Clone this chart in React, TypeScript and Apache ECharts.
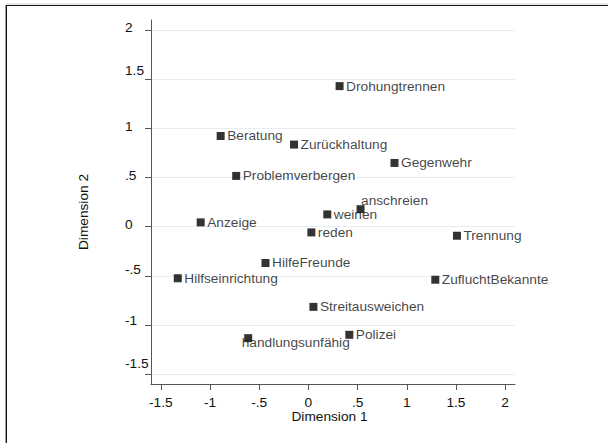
import React, { useEffect, useRef } from "react";
import * as echarts from "echarts";

const names = [
  "Drohungtrennen", "Beratung", "Zurückhaltung", "Gegenwehr", "Problemverbergen",
  "anschreien", "weinen", "Anzeige", "reden", "Trennung", "HilfeFreunde",
  "Hilfseinrichtung", "ZufluchtBekannte", "Streitausweichen", "Polizei", "handlungsunfähig",
];
const dim1 = [0.317, -0.892, -0.146, 0.875, -0.734, 0.53, 0.192, -1.095, 0.03, 1.51, -0.436, -1.328, 1.29, 0.051, 0.416, -0.612];
const dim2 = [1.428, 0.921, 0.834, 0.647, 0.515, 0.177, 0.124, 0.043, -0.059, -0.093, -0.37, -0.525, -0.54, -0.816, -1.1, -1.134];

const xTickValues = [-1.5, -1, -0.5, 0, 0.5, 1, 1.5, 2];
const xTickLabels = ["-1.5", "-1", "-.5", "0", ".5", "1", "1.5", "2"];
const yTickValues = [-1.5, -1, -0.5, 0, 0.5, 1, 1.5, 2];
const yTickLabels = ["-1.5", "-1", "-.5", "0", ".5", "1", "1.5", "2"];

// styling: vertical lift of y tick labels (px), as in the scanned original
const yLabelLift = [11, 4, 6, 2, 2, 2, 8.7, 2];
// styling: special label placements
const labelOffsets: Record<string, [number, number]> = {
  anschreien: [-6, -8.6],
  "handlungsunfähig": [-13, 4.4],
};

const FONT = "'Liberation Sans', Arial, sans-serif";
const FS = 13.7;

export default function App() {
  const ref = useRef<HTMLDivElement>(null);
  useEffect(() => {
    if (!ref.current) return;
    const chart = echarts.init(ref.current, undefined, { renderer: "svg" });
    const rich: Record<string, any> = {};
    yTickLabels.forEach((_, i) => {
      rich["r" + i] = {
        fontSize: FS,
        fontFamily: FONT,
        color: "#111",
        padding: [0, 0, yLabelLift[i] * 2, 0],
      };
    });
    const fmt = (v: number, vals: number[], labs: string[]) => {
      const i = vals.findIndex((t) => Math.abs(t - v) < 1e-9);
      return i >= 0 ? labs[i] : "";
    };
    chart.setOption({
      animation: false,
      backgroundColor: "#fff",
      textStyle: { fontFamily: FONT },
      grid: { left: 151, right: 93, top: 20, bottom: 59, containLabel: false },
      xAxis: {
        type: "value",
        min: -1.6,
        max: 2.1,
        axisLine: { show: true, onZero: false, lineStyle: { color: "#555", width: 1 } },
        axisTick: { show: true, length: 6, lineStyle: { color: "#555" }, customValues: xTickValues },
        axisLabel: {
          customValues: xTickValues,
          formatter: (v: number) => fmt(v, xTickValues, xTickLabels),
          fontSize: FS,
          fontFamily: FONT,
          color: "#111",
          margin: 11,
          showMinLabel: true,
          showMaxLabel: true,
        },
        splitLine: { show: false },
      },
      yAxis: {
        type: "value",
        min: -1.6,
        max: 2.1,
        axisLine: { show: true, onZero: false, lineStyle: { color: "#555", width: 1 } },
        axisTick: { show: true, length: 6, lineStyle: { color: "#555" }, customValues: yTickValues },
        axisLabel: {
          customValues: yTickValues,
          formatter: (v: number) => {
            const i = yTickValues.findIndex((t) => Math.abs(t - v) < 1e-9);
            return i >= 0 ? `{r${i}|${yTickLabels[i]}}` : "";
          },
          rich,
          align: "left",
          margin: 26,
          fontSize: FS,
          fontFamily: FONT,
          color: "#111",
        },
        splitLine: { show: true, lineStyle: { color: "#e6eef1", width: 1.2 } },
      },
      series: [
        {
          type: "scatter",
          symbol: "rect",
          symbolSize: 8,
          itemStyle: { color: "#000" },
          data: names.map((n, i) => {
            const item: any = { name: n, value: [dim1[i], dim2[i]] };
            if (labelOffsets[n]) item.label = { offset: labelOffsets[n] };
            return item;
          }),
          label: {
            show: true,
            position: "right",
            distance: 2.5,
            formatter: (p: any) => p.name,
            fontSize: FS,
            fontFamily: FONT,
            color: "#111",
          },
          emphasis: { disabled: true },
        },
      ],
      graphic: [
        { type: "line", shape: { x1: 6, y1: 4, x2: 608, y2: 4 }, style: { stroke: "#cfcfcf", lineWidth: 1 } },
        { type: "line", shape: { x1: 6, y1: 5.5, x2: 608, y2: 5.5 }, style: { stroke: "#1a1a1a", lineWidth: 1.2 } },
        { type: "line", shape: { x1: 6.3, y1: 5, x2: 6.3, y2: 443 }, style: { stroke: "#111", lineWidth: 1.4 } },
        {
          type: "text",
          x: 83.5,
          y: 212,
          rotation: Math.PI / 2,
          style: { text: "Dimension 2", fontSize: FS, fontFamily: FONT, fill: "#111", textAlign: "center", textVerticalAlign: "middle" },
        },
        {
          type: "text",
          x: 329.5,
          y: 416,
          style: { text: "Dimension 1", fontSize: FS, fontFamily: FONT, fill: "#111", textAlign: "center", textVerticalAlign: "middle" },
        },
      ],
    });
    return () => chart.dispose();
  }, []);
  return (
    <div
      ref={ref}
      style={{ position: "fixed", left: 0, top: 0, width: 608, height: 443 }}
    />
  );
}
